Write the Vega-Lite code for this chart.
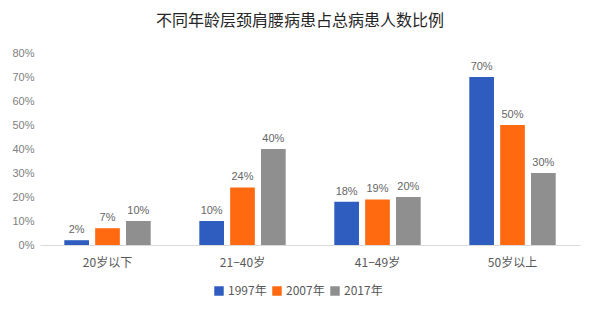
{
  "$schema": "https://vega.github.io/schema/vega-lite/v6.json",
  "autosize": {"type": "none"},
  "padding": {"left": 40, "top": 53, "right": 16, "bottom": 70},
  "width": 540,
  "height": 192,
  "background": "white",
  "title": {
    "text": "不同年龄层颈肩腰病患占总病患人数比例",
    "font": "Noto Sans CJK SC",
    "fontSize": 16,
    "fontWeight": "normal",
    "color": "#262626",
    "anchor": "middle",
    "dx": -10,
    "offset": 18
  },
  "data": {
    "values": [
      {"age": "20岁以下", "year": "1997年", "value": 0.02},
      {"age": "20岁以下", "year": "2007年", "value": 0.07},
      {"age": "20岁以下", "year": "2017年", "value": 0.10},
      {"age": "21−40岁", "year": "1997年", "value": 0.10},
      {"age": "21−40岁", "year": "2007年", "value": 0.24},
      {"age": "21−40岁", "year": "2017年", "value": 0.40},
      {"age": "41−49岁", "year": "1997年", "value": 0.18},
      {"age": "41−49岁", "year": "2007年", "value": 0.19},
      {"age": "41−49岁", "year": "2017年", "value": 0.20},
      {"age": "50岁以上", "year": "1997年", "value": 0.70},
      {"age": "50岁以上", "year": "2007年", "value": 0.50},
      {"age": "50岁以上", "year": "2017年", "value": 0.30}
    ]
  },
  "encoding": {
    "x": {
      "field": "age", "type": "nominal", "sort": null,
      "scale": {"paddingInner": 0.36, "paddingOuter": 0.18},
      "axis": {
        "title": null, "labelAngle": 0, "ticks": false,
        "domainColor": "#d9d9d9", "labelFont": "Noto Sans CJK SC",
        "labelFontSize": 12, "labelColor": "#595959", "labelPadding": 12
      }
    },
    "xOffset": {"field": "year", "type": "nominal", "scale": {"paddingInner": 0.2}},
    "y": {
      "field": "value", "type": "quantitative",
      "scale": {"domain": [0, 0.8]},
      "axis": {
        "title": null, "format": ".0%", "tickCount": 8, "grid": false,
        "domain": false, "ticks": false, "labelPadding": 6,
        "labelFont": "Liberation Sans", "labelFontSize": 11, "labelColor": "#808080"
      }
    }
  },
  "layer": [
    {
      "mark": {"type": "bar"},
      "encoding": {
        "color": {
          "field": "year", "type": "nominal",
          "scale": {"domain": ["1997年", "2007年", "2017年"], "range": ["#2f5dbf", "#ff6a10", "#8f8f8f"]},
          "legend": {
            "title": null, "orient": "none", "direction": "horizontal",
            "legendX": 173, "legendY": 232, "symbolType": "square", "symbolSize": 90,
            "symbolStrokeWidth": 0, "symbolOpacity": 1,
            "labelFont": "Noto Sans CJK SC", "labelFontSize": 12, "labelColor": "#595959",
            "columnPadding": 4, "labelOffset": 3
          }
        }
      }
    },
    {
      "mark": {"type": "text", "dy": -10, "font": "Liberation Sans", "fontSize": 11, "color": "#666666"},
      "encoding": {"text": {"field": "value", "type": "quantitative", "format": ".0%"}}
    }
  ],
  "config": {"view": {"stroke": null}}
}
